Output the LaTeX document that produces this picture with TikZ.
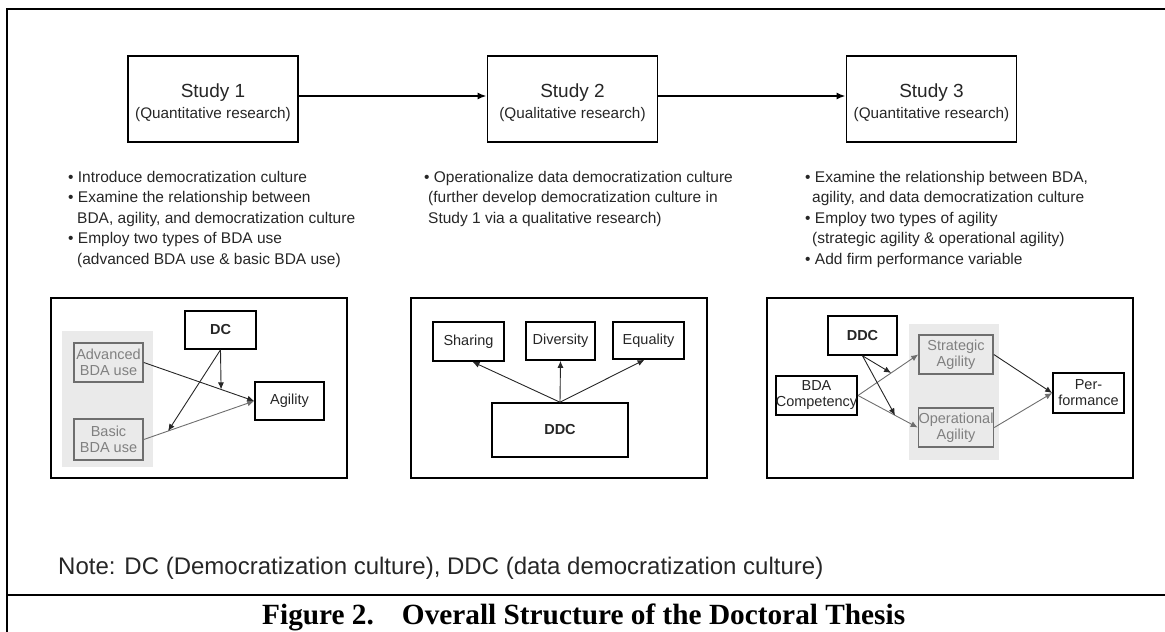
\documentclass[tikz,border=0pt]{standalone}
\usepackage{fontspec}
\setmainfont{Liberation Sans}
\newfontfamily\capfont{Liberation Serif}
\usetikzlibrary{arrows.meta,calc}
\definecolor{txt}{HTML}{262626}
\definecolor{gtxt}{HTML}{808080}
\definecolor{gline}{HTML}{6E6E6E}
\definecolor{gbg}{HTML}{EAEAEA}
\tikzset{
  study/.style={draw, line width=1.8pt, minimum width=170pt, minimum height=86pt, inner sep=0pt, align=center, text=txt},
  pbox/.style={draw, line width=1.7pt, inner sep=0pt},
  bx/.style={draw, line width=1.6pt, inner sep=0pt, align=center, font=\fontsize{14.5}{16}\selectfont, text=txt},
  gbx/.style={bx, draw=gline, text=gtxt},
  bgr/.style={fill=gbg, inner sep=0pt},
  bl/.style={anchor=base west, inner sep=0pt, font=\fontsize{15.5}{18}\selectfont, text=txt},
  mainarr/.style={line width=2pt, -{Latex[length=9pt,width=7pt]}},
  arr/.style={line width=0.9pt, draw=txt, -{Latex[length=7pt,width=6pt]}},
  garr/.style={arr, draw=gline},
}
\newcommand{\stitle}[2]{{\fontsize{19}{22}\selectfont\rule{0pt}{21pt}#1}\\[5pt]{\fontsize{15.3}{18}\selectfont #2}}
\begin{document}
\begin{tikzpicture}[x=1pt,y=-1pt]
\useasboundingbox (0,0) rectangle (1165,632);
% frame
\draw[line width=2pt] (7,632) -- (7,9) -- (1165,9);
\draw[line width=2pt] (7,595) -- (1165,595);

% studies
\node[study] (s1) at (213,99) {\stitle{Study 1}{(Quantitative research)}};
\node[study] (s2) at (572.5,99) {\stitle{Study 2}{(Qualitative research)}};
\node[study] (s3) at (931.5,99) {\stitle{Study 3}{(Quantitative research)}};
\draw[mainarr] ([yshift=3pt]s1.east) -- ([yshift=3pt]s2.west);
\draw[mainarr] ([yshift=3pt]s2.east) -- ([yshift=3pt]s3.west);

% bullet lists
\node[bl] (a1) at (68,182) {\textbullet\ Introduce democratization culture};
\node[bl] (a2) at (68,202.5) {\textbullet\ Examine the relationship between};
\node[bl] (a3) at (77,223) {BDA, agility, and democratization culture};
\node[bl] (a4) at (68,243.5) {\textbullet\ Employ two types of BDA use};
\node[bl] (a5) at (77,264) {(advanced BDA use \& basic BDA use)};

\node[bl] (b1) at (424,182) {\textbullet\ Operationalize data democratization culture};
\node[bl] (b2) at (428,202.5) {(further develop democratization culture in};
\node[bl] (b3) at (428,223) {Study 1 via a qualitative research)};

\node[bl] (c1) at (805,182) {\textbullet\ Examine the relationship between BDA,};
\node[bl] (c2) at (812,202.5) {agility, and data democratization culture};
\node[bl] (c3) at (805,223) {\textbullet\ Employ two types of agility};
\node[bl] (c4) at (812,243.5) {(strategic agility \& operational agility)};
\node[bl] (c5) at (805,264) {\textbullet\ Add firm performance variable};

% panels
\node[pbox, minimum width=296pt, minimum height=180pt] (p1) at (199,388) {};
\node[pbox, minimum width=296pt, minimum height=180pt] (p2) at (559,388) {};
\node[pbox, minimum width=366pt, minimum height=180pt] (p3) at (950,388) {};

% panel 1
\node[bgr, minimum width=91pt, minimum height=136pt] (bg1) at (107.5,399) {};
\node[bx, minimum width=71pt, minimum height=38pt, font=\fontsize{14.5}{16}\selectfont\bfseries] (dc) at (220.5,330) {DC};
\node[gbx, minimum width=69pt, minimum height=39pt] (adv) at (108.5,362.5) {Advanced\\BDA use};
\node[gbx, minimum width=69pt, minimum height=41pt] (bas) at (108.5,439.5) {Basic\\BDA use};
\node[bx, minimum width=69pt, minimum height=38pt] (agi) at (289.5,401) {Agility};
\coordinate (m1) at ($(adv.east)!0.7!(agi.west)$);
\coordinate (m2) at ($(bas.east)!0.22!(agi.west)$);
\draw[arr] (adv.east) -- (agi.west);
\draw[garr] (bas.east) -- (agi.west);
\draw[arr] (dc.south) -- (m1);
\draw[arr] (dc.south) -- (m2);

% panel 2
\node[bx, minimum width=71pt, minimum height=39pt] (sh) at (468.5,341.5) {Sharing};
\node[bx, minimum width=69pt, minimum height=38pt] (dv) at (560.5,341) {Diversity};
\node[bx, minimum width=71pt, minimum height=37pt] (eq) at (648.5,340.5) {Equality};
\node[bx, minimum width=136pt, minimum height=54pt, font=\fontsize{14.5}{16}\selectfont\bfseries] (ddc) at (560,430) {DDC};
\draw[arr] (ddc.north) -- ([xshift=4pt]sh.south);
\draw[arr] (ddc.north) -- (dv.south);
\draw[arr] (ddc.north) -- ([xshift=-4pt]eq.south);

% panel 3
\node[bgr, minimum width=90pt, minimum height=136pt] (bg3) at (954,392) {};
\node[bx, minimum width=69pt, minimum height=39pt, font=\fontsize{14.5}{16}\selectfont\bfseries] (ddc3) at (862.5,335.5) {DDC};
\node[gbx, minimum width=74pt, minimum height=39pt] (st) at (956,354.5) {Strategic\\Agility};
\node[gbx, minimum width=74pt, minimum height=39pt] (op) at (956,427.5) {Operational\\Agility};
\node[bx, minimum width=77pt, minimum height=39pt] (bda) at (816.5,395.5) {BDA\\Competency};
\node[bx, minimum width=71pt, minimum height=40pt] (perf) at (1088.5,393) {Per-\\formance};
\coordinate (n1) at ($(bda.east)!0.55!(st.west)$);
\coordinate (n2) at ($(bda.east)!0.62!(op.west)$);
\draw[garr] (bda.east) -- (st.west);
\draw[garr] (bda.east) -- (op.west);
\draw[arr] (ddc3.south) -- (n1);
\draw[arr] (ddc3.south) -- (n2);
\draw[arr] (st.east) -- (perf.west);
\draw[garr] (op.east) -- (perf.west);

% note and caption
\node[anchor=base west, inner sep=0pt, font=\fontsize{24}{28}\selectfont, text=txt] (note) at (58,574) {Note: DC (Democratization culture), DDC (data democratization culture)};
\node[anchor=base west, inner sep=0pt, font=\capfont\bfseries\fontsize{29.3}{32}\selectfont] (cap) at (262,624) {Figure 2.\hspace{28pt}Overall Structure of the Doctoral Thesis};
\end{tikzpicture}
\end{document}
